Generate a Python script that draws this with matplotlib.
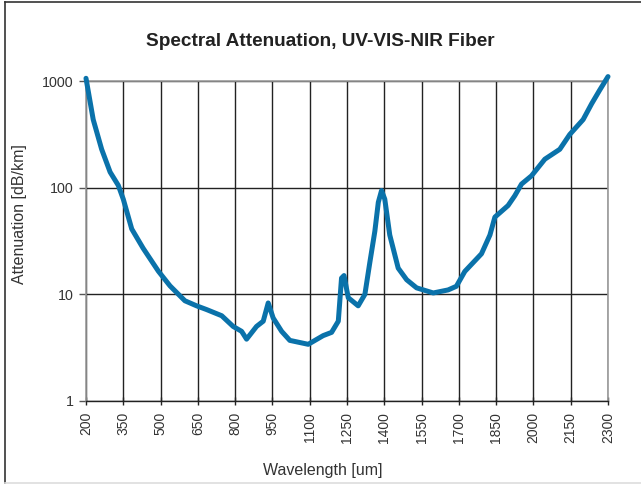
import matplotlib.pyplot as plt
from matplotlib.lines import Line2D
import numpy as np

# Spectral attenuation curve
wavelength = [200, 229, 263, 297, 330, 350, 384, 430, 491, 538, 598, 645, 685, 746,
              792, 826, 846, 886, 913, 933, 953, 987, 1020, 1094, 1154, 1188, 1215,
              1228, 1238, 1255, 1295, 1322, 1342, 1362, 1376, 1389, 1402, 1422, 1456,
              1490, 1530, 1597, 1657, 1690, 1724, 1791, 1825, 1845, 1898, 1925, 1952,
              1992, 2046, 2106, 2146, 2200, 2234, 2267, 2300]
attenuation = [1060, 435, 229, 140, 105, 78, 41, 27, 16.5, 12, 8.7, 7.8, 7.2, 6.3,
               5.0, 4.5, 3.8, 5.0, 5.6, 8.3, 6.0, 4.5, 3.7, 3.4, 4.1, 4.4, 5.6,
               14.2, 15, 9.3, 7.8, 10, 20, 39, 73, 94, 78, 36, 17.6,
               13.7, 11.5, 10.3, 11, 11.9, 16.4, 24, 36, 53, 68, 84, 108,
               129, 185, 229, 315, 435, 611, 825, 1100]

x_ticks = list(range(200, 2301, 150))
y_ticks = [1, 10, 100, 1000]

plt.rcParams['font.family'] = ['Liberation Sans', 'DejaVu Sans']
text_color = '#333333'

fig = plt.figure(figsize=(6.41, 4.86), dpi=100)
ax = fig.add_axes([86 / 641, 1 - 401 / 486, (608 - 86) / 641, (401 - 81) / 486])

ax.plot(wavelength, attenuation, color='#0a72aa', linewidth=3.6,
        solid_capstyle='round', solid_joinstyle='round', zorder=3, clip_on=False)

ax.set_yscale('log')
ax.set_xlim(200, 2300)
ax.set_ylim(1, 1000)
ax.set_xticks(x_ticks)
ax.set_xticklabels([str(t) for t in x_ticks], rotation=90, fontsize=10, color=text_color)
ax.set_yticks(y_ticks)
ax.set_yticklabels([str(t) for t in y_ticks], fontsize=10.3, color=text_color)
ax.yaxis.set_minor_locator(plt.NullLocator())

ax.grid(True, which='major', color='#222222', linewidth=1.0)
ax.tick_params(axis='x', direction='inout', length=6, width=1, color='#222222', pad=5)
ax.tick_params(axis='y', direction='out', length=5, width=1, color='#555555', pad=4)

for side in ['left', 'top', 'right']:
    ax.spines[side].set_color('#999999')
    ax.spines[side].set_linewidth(1.2)
ax.spines['bottom'].set_color('#222222')
ax.spines['bottom'].set_linewidth(1.0)

# axis titles placed as in the reference (not centred on the axes)
fig.text(323 / 641, 1 - 470 / 486, 'Wavelength [um]', ha='center', va='center',
         fontsize=11.5, color=text_color)
fig.text(20 / 641, 1 - 214 / 486, 'Attenuation [dB/km]', ha='center', va='center',
         rotation=90, fontsize=11.5, color=text_color)

fig.text(320 / 641, 1 - 42 / 486, 'Spectral Attenuation, UV-VIS-NIR Fiber',
         ha='center', va='center', fontsize=13.7, fontweight='bold', color='#222222')

# figure frame
fig.add_artist(Line2D([5 / 641, 1], [1 - 2 / 486, 1 - 2 / 486], color='#333333', linewidth=1.2))
fig.add_artist(Line2D([5 / 641, 5 / 641], [1 - 2 / 486, 1 - 483 / 486], color='#333333', linewidth=1.2))
fig.add_artist(Line2D([5 / 641, 1], [1 - 483 / 486, 1 - 483 / 486], color='#dddddd', linewidth=1.2))

fig.savefig('out.png', dpi=100)
